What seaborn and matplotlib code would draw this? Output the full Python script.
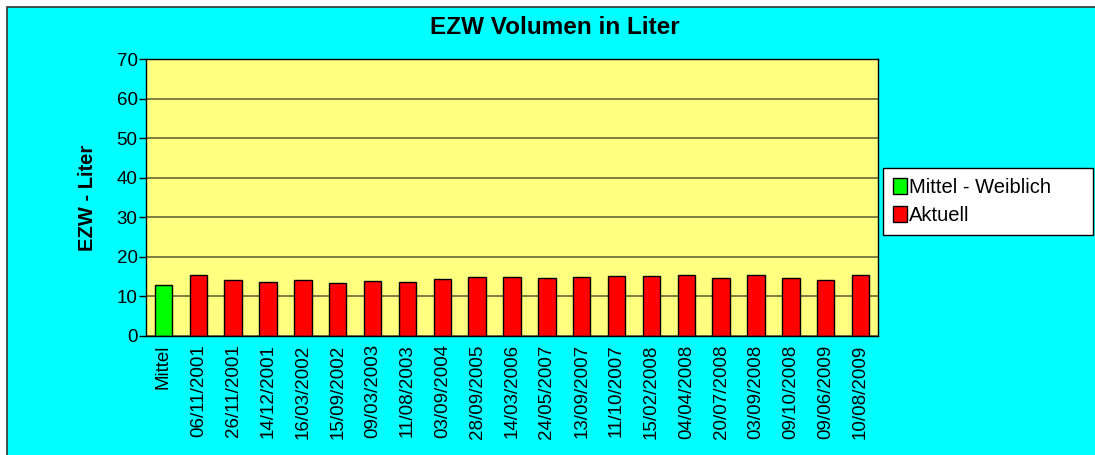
import numpy as np
import matplotlib
matplotlib.use('Agg')
import matplotlib.pyplot as plt
import seaborn as sns
import pandas as pd
from matplotlib.patches import Rectangle

# data
categories = ['Mittel', '06/11/2001', '26/11/2001', '14/12/2001', '16/03/2002',
              '15/09/2002', '09/03/2003', '11/08/2003', '03/09/2004', '28/09/2005',
              '14/03/2006', '24/05/2007', '13/09/2007', '11/10/2007', '15/02/2008',
              '04/04/2008', '20/07/2008', '03/09/2008', '09/10/2008', '09/06/2009',
              '10/08/2009']
values = [13.0, 15.3, 14.2, 13.6, 14.1, 13.4, 14.0, 13.7, 14.4, 14.8,
          14.8, 14.7, 14.8, 15.1, 15.1, 15.3, 14.75, 15.3, 14.75, 14.25, 15.4]
series = ['Mittel - Weiblich'] + ['Aktuell'] * 20
colors = {'Mittel - Weiblich': '#00ff00', 'Aktuell': '#ff0000'}

df = pd.DataFrame({'Datum': categories, 'Liter': values, 'Serie': series})

sns.set_style('white')
plt.rcParams['font.family'] = ['Liberation Sans', 'DejaVu Sans']
plt.rcParams['text.color'] = 'black'
plt.rcParams['axes.labelcolor'] = 'black'
plt.rcParams['xtick.color'] = 'black'
plt.rcParams['ytick.color'] = 'black'

fig = plt.figure(figsize=(10.95, 4.55), dpi=100)
fig.patch.set_facecolor('white')
# cyan chart area, border only visible on top and left
fig.patches.append(Rectangle((7 / 1095, -0.05), 1.05, 1.05 - 7 / 455, transform=fig.transFigure,
                             facecolor='#00ffff', edgecolor='#333333', linewidth=1.2, zorder=-5))

ax = fig.add_axes([146 / 1095, 1 - 336 / 455, (878 - 146) / 1095, (336 - 59) / 455])
ax.set_facecolor('#ffff80')

sns.barplot(data=df, x='Datum', y='Liter', hue='Serie', palette=colors, dodge=False,
            width=0.5, saturation=1, edgecolor='black', linewidth=1, ax=ax)

ax.set_ylim(0, 70)
ax.set_yticks(range(0, 71, 10))
ax.set_xlim(-0.5, len(categories) - 0.5)
ax.yaxis.grid(True, color='#5a5a30', linewidth=1.1)
ax.set_axisbelow(True)
for s in ax.spines.values():
    s.set_visible(True)
    s.set_color('black')
    s.set_linewidth(1)

# tick marks between categories, labels centred under bars
ax.set_xticks(np.arange(len(categories)))
ax.set_xticklabels(categories, rotation=90, fontsize=13.5)
ax.set_xticks(np.arange(-0.5, len(categories), 1), minor=True)
ax.tick_params(axis='x', which='major', length=0, pad=6)
ax.tick_params(axis='x', which='minor', length=8, direction='inout', width=1, color='black')
ax.tick_params(axis='y', labelsize=13.5, length=5, direction='out', width=1, color='black', pad=1, left=True)

ax.set_xlabel('')
ax.set_ylabel('EZW - Liter', fontsize=14.5, fontweight='bold', labelpad=14)

fig.text(0.507, 1 - 27 / 455, 'EZW Volumen in Liter', ha='center', va='center',
         fontsize=17.5, fontweight='bold')

ax.legend_.remove()
handles, labels = ax.get_legend_handles_labels()
leg = fig.legend(handles, labels, loc='upper left',
                 bbox_to_anchor=(883 / 1095, 1 - 233 / 455, 210 / 1095, 65 / 455),
                 bbox_transform=fig.transFigure, mode='expand', borderaxespad=0,
                 fontsize=14.5, frameon=True, fancybox=False, handlelength=0.7,
                 handleheight=0.8, handletextpad=0.1, borderpad=0.5, labelspacing=0.45)
leg.get_frame().set_edgecolor('black')
leg.get_frame().set_linewidth(1)
leg.get_frame().set_facecolor('white')
leg.get_frame().set_alpha(1)

fig.savefig('out.png', dpi=100)
